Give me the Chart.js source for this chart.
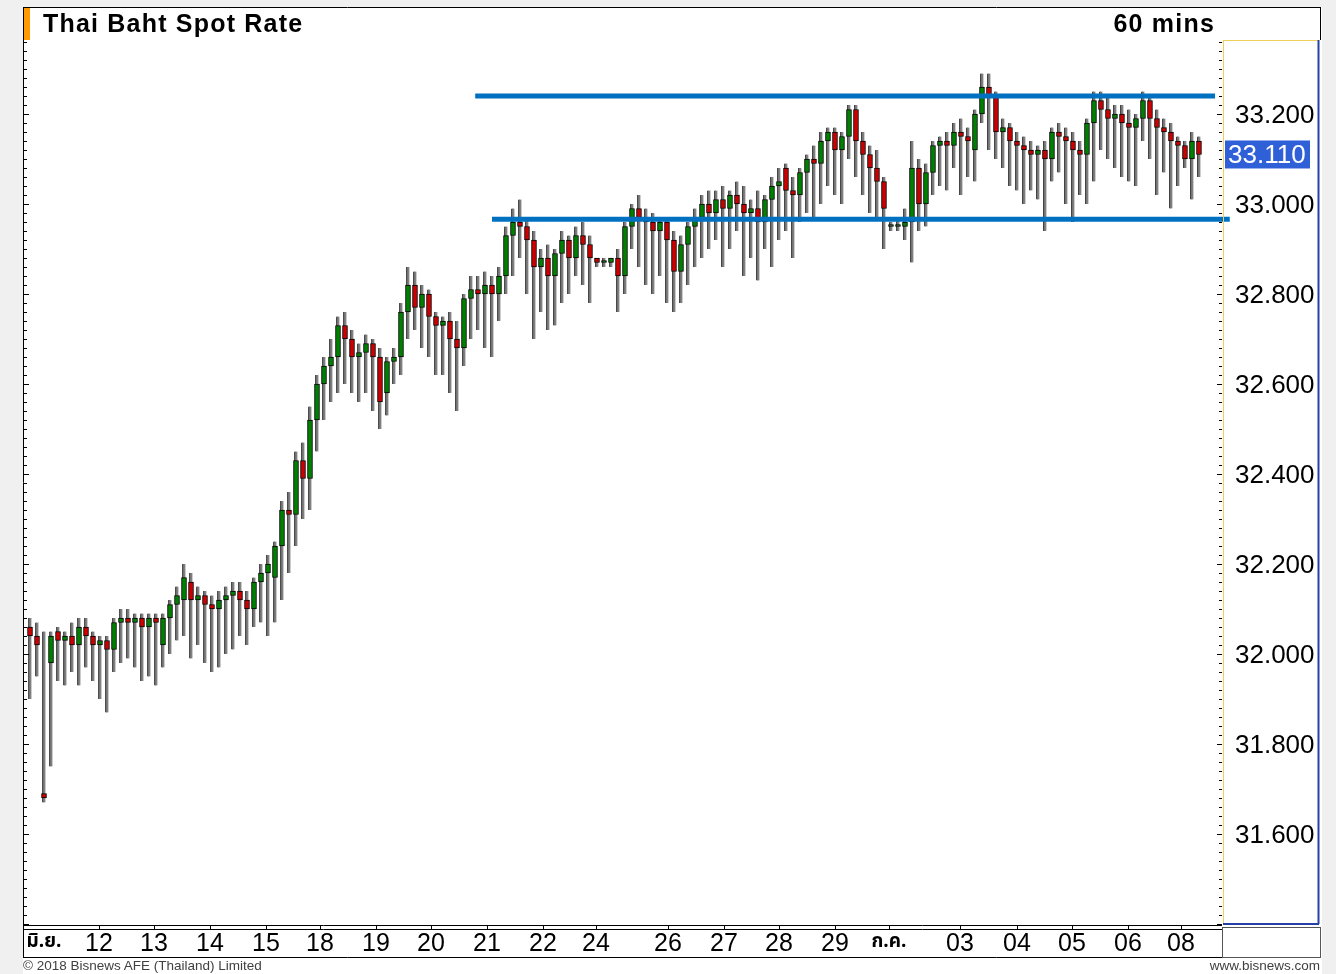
<!DOCTYPE html>
<html>
<head>
<meta charset="utf-8">
<script src="https://cdn.jsdelivr.net/npm/chart.js@4.4.1/dist/chart.umd.min.js"></script>
<style>
  html, body { margin: 0; padding: 0; background: #f0f0f0; width: 1336px; height: 974px; overflow: hidden; }
  #sheet { position: absolute; left: 23px; top: 7px; width: 1299px; height: 967px; background: #fff; }
  #chart { position: absolute; left: 0; top: 0; }
  .head { position: absolute; top: 11px; font-family: "Liberation Sans", Arial, sans-serif; font-weight: bold;
          font-size: 25px; line-height: 25px; letter-spacing: 1.2px; color: #000; white-space: nowrap; }
  .foot { position: absolute; top: 958px; font-family: "Liberation Sans", Arial, sans-serif; font-size: 13.5px;
          line-height: 16px; color: #404040; white-space: nowrap; }
</style>
</head>
<body>
<div id="sheet"></div>
<canvas id="chart" width="1336" height="974"></canvas>
<div class="head" style="left:43px">Thai Baht Spot Rate</div>
<div class="head" style="right:121px">60 mins</div>
<div class="foot" style="left:23px">© 2018 Bisnews AFE (Thailand) Limited</div>
<div class="foot" style="right:16px">www.bisnews.com</div>
<script>
// hourly candles
const opens = [
  32.06, 32.04, 31.69, 31.98, 32.05, 32.03, 32.04, 32.02, 32.06, 32.04, 32.02, 32.03,
  32.01, 32.07, 32.08, 32.07, 32.08, 32.06, 32.08, 32.02,
  32.08, 32.11, 32.12, 32.16, 32.12, 32.13, 32.11, 32.10, 32.12,
  32.13, 32.14, 32.12, 32.10, 32.16, 32.18, 32.17,
  32.24, 32.32, 32.31, 32.43, 32.39, 32.52,
  32.60, 32.64, 32.66, 32.73, 32.70, 32.66, 32.67, 32.69,
  32.66, 32.58, 32.65, 32.66, 32.76, 32.82, 32.77, 32.80, 32.75,
  32.73, 32.74, 32.70, 32.68, 32.79, 32.81, 32.80, 32.82, 32.80,
  32.84, 32.93, 32.96, 32.95, 32.92, 32.86, 32.88, 32.84,
  32.89, 32.92, 32.88, 32.93, 32.91, 32.88, 32.87, 32.87, 32.88,
  32.84, 32.95, 32.99, 32.97, 32.96, 32.94, 32.96, 32.92,
  32.85, 32.91, 32.95, 32.97, 33.00, 32.98, 33.01, 32.99, 33.02,
  33.00, 32.98, 32.99, 32.96, 33.01, 33.04, 33.08, 33.03,
  33.02, 33.07, 33.10, 33.09, 33.14, 33.16, 33.12, 33.15, 33.21,
  33.14, 33.11, 33.08, 33.05, 32.95, 32.95, 32.95, 32.96, 33.08, 33.00,
  33.07, 33.13, 33.14, 33.13, 33.16, 33.15, 33.12, 33.20,
  33.26, 33.24, 33.16, 33.17, 33.14, 33.13, 33.12, 33.11,
  33.12, 33.10, 33.16, 33.15, 33.14, 33.12, 33.11, 33.18,
  33.23, 33.21, 33.19, 33.20, 33.18, 33.17, 33.19, 33.23, 33.19,
  33.17, 33.16, 33.14, 33.13, 33.10, 33.14
];
const highs = [
  32.08, 32.07, 32.05, 32.05, 32.06, 32.05, 32.07, 32.08, 32.08, 32.05, 32.04, 32.04,
  32.08, 32.10, 32.10, 32.09, 32.09, 32.09, 32.09, 32.09,
  32.12, 32.15, 32.20, 32.18, 32.15, 32.14, 32.13, 32.14, 32.15,
  32.16, 32.16, 32.14, 32.17, 32.20, 32.22, 32.25,
  32.34, 32.36, 32.45, 32.47, 32.55, 32.62,
  32.66, 32.70, 32.75, 32.76, 32.72, 32.69, 32.71, 32.70,
  32.68, 32.66, 32.68, 32.78, 32.86, 32.85, 32.82, 32.81, 32.76,
  32.75, 32.76, 32.74, 32.80, 32.84, 32.84, 32.85, 32.84, 32.86,
  32.95, 32.99, 33.01, 32.97, 32.94, 32.90, 32.91, 32.90,
  32.94, 32.93, 32.95, 32.96, 32.93, 32.88, 32.88, 32.88, 32.90,
  32.96, 33.00, 33.02, 32.99, 32.98, 32.97, 32.97, 32.94,
  32.93, 32.96, 32.99, 33.02, 33.03, 33.03, 33.04, 33.03, 33.05,
  33.04, 33.01, 33.03, 33.02, 33.06, 33.08, 33.09, 33.06,
  33.08, 33.11, 33.13, 33.16, 33.17, 33.17, 33.16, 33.22, 33.22,
  33.16, 33.13, 33.12, 33.06, 32.96, 32.97, 32.99, 33.14, 33.10, 33.09,
  33.14, 33.15, 33.16, 33.18, 33.19, 33.17, 33.21, 33.29,
  33.29, 33.25, 33.19, 33.18, 33.16, 33.15, 33.14, 33.13,
  33.14, 33.17, 33.18, 33.17, 33.16, 33.14, 33.19, 33.25,
  33.25, 33.24, 33.22, 33.22, 33.21, 33.20, 33.25, 33.24, 33.21,
  33.19, 33.18, 33.15, 33.14, 33.16, 33.15
];
const lows = [
  31.90, 31.95, 31.67, 31.75, 31.94, 31.93, 31.96, 31.93, 31.97, 31.94, 31.90, 31.87,
  31.96, 31.98, 31.99, 31.97, 31.94, 31.95, 31.93, 31.97,
  32.00, 32.03, 32.04, 31.99, 32.02, 31.98, 31.96, 31.97, 32.00,
  32.01, 32.04, 32.02, 32.06, 32.07, 32.04, 32.07,
  32.12, 32.18, 32.24, 32.30, 32.32, 32.45,
  32.52, 32.56, 32.58, 32.60, 32.58, 32.56, 32.58, 32.54,
  32.50, 32.53, 32.60, 32.62, 32.70, 32.72, 32.68, 32.66, 32.62,
  32.62, 32.58, 32.54, 32.64, 32.70, 32.72, 32.68, 32.66, 32.74,
  32.80, 32.84, 32.88, 32.80, 32.70, 32.76, 32.72, 32.73,
  32.78, 32.80, 32.84, 32.82, 32.78, 32.86, 32.86, 32.86, 32.76,
  32.80, 32.90, 32.86, 32.82, 32.80, 32.84, 32.78, 32.76,
  32.78, 32.82, 32.86, 32.88, 32.90, 32.92, 32.86, 32.90, 32.94,
  32.84, 32.88, 32.83, 32.90, 32.86, 32.92, 32.94, 32.88,
  32.96, 32.98, 32.97, 33.00, 33.04, 33.02, 33.00, 33.10, 33.06,
  33.02, 32.98, 32.97, 32.90, 32.94, 32.94, 32.92, 32.87, 32.94, 32.95,
  33.02, 33.04, 33.03, 33.08, 33.02, 33.06, 33.05, 33.18,
  33.12, 33.10, 33.08, 33.04, 33.03, 33.00, 33.03, 33.01,
  32.94, 33.05, 33.07, 33.00, 32.96, 33.02, 33.00, 33.05,
  33.12, 33.10, 33.08, 33.06, 33.05, 33.04, 33.14, 33.10, 33.02,
  33.07, 32.99, 33.04, 33.08, 33.01, 33.06
];
const closes = [
  32.04, 32.02, 31.68, 32.04, 32.03, 32.04, 32.02, 32.06, 32.04, 32.02, 32.03, 32.01,
  32.07, 32.08, 32.07, 32.08, 32.06, 32.08, 32.07, 32.08,
  32.11, 32.13, 32.17, 32.12, 32.13, 32.11, 32.10, 32.12, 32.13,
  32.14, 32.12, 32.10, 32.16, 32.18, 32.20, 32.24,
  32.32, 32.31, 32.43, 32.39, 32.52, 32.60,
  32.64, 32.66, 32.73, 32.70, 32.66, 32.67, 32.69, 32.66,
  32.56, 32.65, 32.66, 32.76, 32.82, 32.77, 32.80, 32.75, 32.73,
  32.74, 32.70, 32.68, 32.79, 32.81, 32.80, 32.82, 32.80, 32.84,
  32.93, 32.96, 32.95, 32.92, 32.86, 32.88, 32.84, 32.89,
  32.92, 32.88, 32.93, 32.91, 32.88, 32.87, 32.87, 32.88, 32.84,
  32.95, 32.99, 32.97, 32.96, 32.94, 32.96, 32.92, 32.85,
  32.91, 32.95, 32.97, 33.00, 32.98, 33.01, 32.99, 33.02, 33.00,
  32.98, 32.99, 32.96, 33.01, 33.04, 33.05, 33.03, 33.02,
  33.07, 33.10, 33.09, 33.14, 33.16, 33.12, 33.15, 33.21, 33.14,
  33.11, 33.08, 33.05, 32.99, 32.95, 32.95, 32.96, 33.08, 33.00, 33.07,
  33.13, 33.14, 33.13, 33.16, 33.15, 33.14, 33.20, 33.26,
  33.24, 33.16, 33.17, 33.14, 33.13, 33.12, 33.11, 33.12,
  33.10, 33.16, 33.15, 33.14, 33.12, 33.11, 33.18, 33.23,
  33.21, 33.19, 33.20, 33.18, 33.17, 33.19, 33.23, 33.19, 33.17,
  33.16, 33.14, 33.13, 33.10, 33.14, 33.11
];

// date labels and where they sit (in candle index units)
const dayLabels = ['มิ.ย.', '12', '13', '14', '15', '18', '19', '20', '21', '22', '24',
                   '26', '27', '28', '29', 'ก.ค.', '03', '04', '05', '06', '08'];
const dayTicks = [2.0, 9.86, 17.71, 25.71, 33.71, 41.43, 49.43, 57.29, 65.29, 73.29, 80.86,
                  91.14, 99.14, 107.0, 115.0, 122.7, 132.86, 141.0, 148.86, 156.86, 164.43];
const priceTicks = [31.6, 31.8, 32.0, 32.2, 32.4, 32.6, 32.8, 33.0, 33.2];

// trend lines drawn on the chart
const resistanceLevel = 33.24;
const resistanceSpan = [63.6, 169.3];
const supportLevel = 32.966;
const supportSpan = [66.0, 171.4];

const lastPrice = closes[closes.length - 1];
const isThai = s => /[\u0E00-\u0E7F]/.test(s || '');
const labelAt = v => dayLabels[dayTicks.indexOf(v)];

const wickData = highs.map((h, i) => ({ x: i, y: [lows[i], h] }));
const bodyData = opens.map((o, i) => ({ x: i, y: [o, closes[i]] }));
const bodyColors = opens.map((o, i) => closes[i] >= o ? '#008000' : '#cc0000');

const framePlugin = {
  id: 'frame',
  afterDraw(chart) {
    const { ctx, chartArea: a, scales: { x, y } } = chart;
    ctx.save();
    const line = (x1, y1, x2, y2) => { ctx.beginPath(); ctx.moveTo(x1, y1); ctx.lineTo(x2, y2); ctx.stroke(); };

    // tick marks on both price edges
    ctx.strokeStyle = '#000';
    ctx.lineWidth = 1;
    for (let k = 0; k <= 99; k++) {
      const v = 31.4 + k * 0.02;
      if (v > y.max) break;
      const py = Math.round(y.getPixelForValue(v)) + 0.5;
      const len = k % 10 === 0 ? 5 : 3;
      line(a.left, py, a.left + len, py);
      line(a.right - len, py, a.right, py);
    }

    // date tick marks
    x.ticks.forEach(t => {
      if (t.value === dayTicks[0]) return;
      const px = Math.round(x.getPixelForValue(t.value)) + 0.5;
      line(px, a.bottom, px, a.bottom + 4);
    });

    // right panel borders
    ctx.strokeStyle = '#f2cf5b';
    line(a.right + 1.5, a.top, a.right + 1.5, a.bottom);
    line(a.right + 1, a.top + 0.5, y.right - 2, a.top + 0.5);
    ctx.strokeStyle = '#2740a8';
    ctx.lineWidth = 2;
    line(y.right - 1.5, a.top, y.right - 1.5, a.bottom - 1);
    line(a.right + 1, a.bottom - 1, y.right - 1, a.bottom - 1);

    // black frame
    ctx.strokeStyle = '#000';
    ctx.lineWidth = 1;
    line(23, 7.5, y.right + 1, 7.5);
    line(23.5, 7, 23.5, x.bottom + 1);
    line(y.right + 0.5, 7, y.right + 0.5, a.top);
    line(a.left, a.bottom + 0.5, a.right, a.bottom + 0.5);
    line(a.left, a.bottom + 4.5, a.right, a.bottom + 4.5);
    line(23, x.bottom + 0.5, y.right + 1, x.bottom + 0.5);
    ctx.strokeStyle = '#555';
    ctx.strokeRect(a.right + 0.5, a.bottom + 2.5, y.right - a.right, x.bottom - a.bottom - 2);

    // orange marker by the title
    ctx.fillStyle = '#ff9900';
    ctx.fillRect(24, 8, 6, 32);

    // last price box
    const py = y.getPixelForValue(lastPrice);
    ctx.fillStyle = '#3060d8';
    ctx.fillRect(a.right + 3, py - 14, 85, 28);
    ctx.fillStyle = '#fff';
    ctx.font = '26px "Liberation Sans", Arial, sans-serif';
    ctx.textBaseline = 'middle';
    ctx.textAlign = 'left';
    ctx.fillText(lastPrice.toFixed(3), a.right + 6, py + 1);
    ctx.restore();
  }
};

new Chart(document.getElementById('chart'), {
  type: 'bar',
  data: {
    datasets: [
      {
        type: 'line',
        data: [{ x: resistanceSpan[0], y: resistanceLevel }, { x: resistanceSpan[1], y: resistanceLevel }],
        borderColor: '#0070c0', borderWidth: 5, pointRadius: 0, borderCapStyle: 'butt',
        clip: false, order: 0
      },
      {
        type: 'line',
        data: [{ x: supportSpan[0], y: supportLevel }, { x: supportSpan[1], y: supportLevel }],
        borderColor: '#0070c0', borderWidth: 5, pointRadius: 0, borderCapStyle: 'butt',
        clip: false, order: 0
      },
      {
        data: bodyData,
        backgroundColor: bodyColors,
        borderColor: '#000',
        borderWidth: 1,
        borderSkipped: false,
        barThickness: 5,
        minBarLength: 2,
        grouped: false,
        order: 1
      },
      {
        data: wickData,
        backgroundColor: '#808080',
        borderColor: '#000',
        borderWidth: { left: 1, right: 0, top: 0, bottom: 0 },
        borderSkipped: false,
        barThickness: 3,
        grouped: false,
        order: 2
      }
    ]
  },
  options: {
    responsive: false,
    animation: false,
    events: [],
    layout: { padding: { left: 24, top: 40, right: 16, bottom: 17 } },
    plugins: { legend: { display: false }, tooltip: { enabled: false }, title: { display: false } },
    scales: {
      x: {
        type: 'linear',
        position: 'bottom',
        offset: false,
        min: -0.857,
        max: 170.29,
        afterFit: s => { s.height = 32; },
        afterBuildTicks: s => { s.ticks = dayTicks.map(v => ({ value: v })); },
        border: { display: false },
        grid: { display: false, drawTicks: false, offset: false },
        ticks: {
          autoSkip: false,
          maxRotation: 0,
          padding: 7,
          color: '#000',
          callback: v => labelAt(v),
          font: c => isThai(c.tick ? labelAt(c.tick.value) : '')
            ? { family: '"Noto Sans Thai", "Noto Sans", "DejaVu Sans", sans-serif', size: 19, weight: 'bold', lineHeight: 1.2 }
            : { family: '"Liberation Sans", Arial, sans-serif', size: 25, lineHeight: 1 }
        }
      },
      y: {
        type: 'linear',
        position: 'right',
        min: 31.3978,
        max: 33.3644,
        afterFit: s => { s.width = 98; },
        afterBuildTicks: s => { s.ticks = priceTicks.map(v => ({ value: v })); },
        border: { display: false },
        grid: { display: false, drawTicks: false },
        ticks: {
          padding: 13,
          labelOffset: 2,
          color: '#000',
          font: { family: '"Liberation Sans", Arial, sans-serif', size: 26 },
          callback: v => v.toFixed(3)
        }
      }
    }
  },
  plugins: [framePlugin]
});
</script>
</body>
</html>
